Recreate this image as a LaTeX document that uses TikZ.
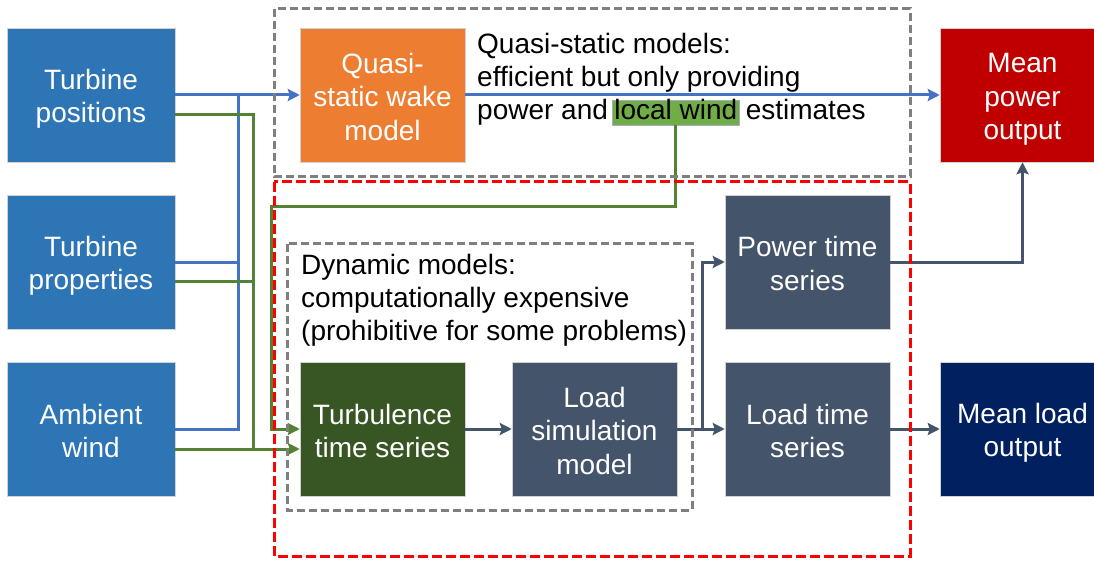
\documentclass[tikz,border=0pt]{standalone}
\usepackage{fontspec}
\setmainfont{Liberation Sans}
\usetikzlibrary{arrows.meta}
\definecolor{cblue}{HTML}{2E75B6}
\definecolor{corange}{HTML}{ED7D31}
\definecolor{cred}{HTML}{C00000}
\definecolor{cslate}{HTML}{44546A}
\definecolor{cdkgreen}{HTML}{375623}
\definecolor{cnavy}{HTML}{002060}
\definecolor{lblue}{HTML}{4472C4}
\definecolor{lgreen}{HTML}{548235}
\definecolor{hgreen}{HTML}{70AD47}
\definecolor{cgray}{HTML}{7F7F7F}
\newcommand\dfont{\fontsize{28pt}{33.5pt}\selectfont}
\newcommand\tst{\rule{0pt}{28pt}}
\begin{document}
\begin{tikzpicture}[x=1pt,y=-1pt,
  box/.style={rectangle, minimum width=165pt, minimum height=134pt, text=white,
    align=center, inner sep=0pt, font=\dfont, draw=gray!35, line width=0.5pt,
    execute at end node={\rule[-4.5pt]{0pt}{0pt}}},
  inbox/.style={box, minimum width=168pt, fill=cblue},
  txt/.style={inner sep=0pt, font=\dfont, text=black},
  hl/.style={font=\dfont, fill=hgreen, draw=lblue!40!gray!60, line width=0.6pt,
    inner xsep=2pt, inner ysep=0pt, text height=20pt, text depth=5pt},
  arr/.style={-{Stealth[length=12pt,width=12pt,inset=2pt]}},
  wblue/.style={line width=3pt, draw=lblue},
  wgreen/.style={line width=3pt, draw=lgreen},
  wdark/.style={line width=3pt, draw=cslate},
  gdash/.style={line width=3pt, draw=cgray, dash pattern=on 8pt off 4pt},
  rdash/.style={line width=3pt, draw=red, dash pattern=on 10pt off 4pt}]
\useasboundingbox (0,0) rectangle (1094,561);
\clip (0,0) rectangle (1094,561);

% boxes
\node[inbox] (tp) at (91,95) {\tst Turbine\\positions};
\node[inbox] (tprop) at (91,262) {\tst Turbine\\properties};
\node[inbox] (aw) at (91,429) {\tst Ambient\\wind};
\node[box, fill=corange] (wake) at (382.5,95) {\tst Quasi-\\static wake\\model};
\node[box, fill=cred] (mpo) at (1022.5,95) {\tst Mean\\power\\output};
\node[box, fill=cslate] (pts) at (807.5,262) {\tst Power time\\series};
\node[box, fill=cdkgreen] (tts) at (382.5,429) {\tst Turbulence\\time series};
\node[box, fill=cslate] (lsm) at (594.5,429) {\tst Load\\simulation\\model};
\node[box, fill=cslate] (lts) at (807.5,429) {\tst Load time\\series};
\node[box, fill=cnavy] (mlo) at (1022.5,429) {\tst Mean load\\output};

% texts
\node[txt, anchor=base west] (q1) at (477,54) {Quasi-static models:};
\node[txt, anchor=base west] (q2) at (477,87) {efficient but only providing};
\node[txt, anchor=base west] (q3) at (477,120) {power and};
\node[hl, anchor=base west] (lw) at (612,120) {local wind};
\node[txt, anchor=base west] (q4) at ([xshift=6pt]lw.base east) {estimates};

\node[txt, anchor=base west] (d1t) at (301,274) {Dynamic models:};
\node[txt, anchor=base west] (d2t) at (301,307) {computationally expensive};
\node[txt, anchor=base west] (d3t) at (301,340) {(prohibitive for some problems)};

% blue connectors
\coordinate (b1) at (238,95);
\coordinate (b2) at (238,262);
\coordinate (b3) at (238,429);
\draw[wblue] (tprop.east) -- (b2);
\draw[wblue] (aw.east) -- (b3) -- (b1);
\draw[wblue,arr] (tp.east) -- (wake.west);
\draw[wblue,arr] (wake.east) -- (mpo.west);

% green connectors
\coordinate (g1) at (253,115);
\coordinate (g2) at (253,281);
\coordinate (g3) at (253,449);
\draw[wgreen] (tp.east |- g1) -- (g1) -- (g3);
\draw[wgreen] (tprop.east |- g2) -- (g2);
\draw[wgreen,arr] (aw.east |- g3) -- (tts.west |- g3);
\coordinate (g5) at (271,207);
\coordinate (g6) at (271,429);
\draw[wgreen,arr] (lw.south) -- (lw.south |- g5) -- (g5) -- (g6) -- (tts.west |- g6);

% dark connectors
\draw[wdark,arr] (tts.east) -- (lsm.west);
\draw[wdark,arr] (lsm.east) -- (lts.west);
\coordinate (k1) at (702,429);
\draw[wdark,arr] (k1) -- (k1 |- pts.west) -- (pts.west);
\draw[wdark,arr] (pts.east) -- (pts.east -| mpo.south) -- (mpo.south);
\draw[wdark,arr] (lts.east) -- (mlo.west);

% dashed regions
\draw[gdash] (274,9) rectangle (910,177);
\draw[rdash] (274,182) rectangle (910,556);
\draw[gdash] (287,244) rectangle (692,510);
\end{tikzpicture}
\end{document}
